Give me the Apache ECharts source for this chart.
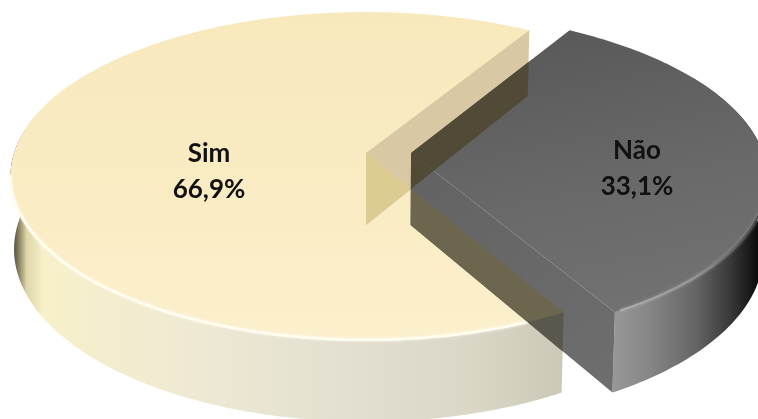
<!DOCTYPE html>
<html>
<head>
<meta charset="utf-8">
<style>html,body{margin:0;padding:0;background:#fff}#c{width:758px;height:419px}</style>
<script src="https://cdn.jsdelivr.net/npm/echarts@6/dist/echarts.min.js"></script>
</head>
<body>
<div id="c"></div>
<script>
var categories = ['Não', 'Sim'];
var values = [33.1, 66.9];
var valueLabels = ['33,1%', '66,9%'];

// Projection of the tilted disc: perspective homography
var view = {cx: 366, cy: 153, A: 352, B: 160.7, p: 0.14, h: 72, shrink: 0.99, start: -58.7, explode: [0.128, 0]};
var labelPos = [[637, 169], [209, 172]];

var total = values.reduce(function (a, b) { return a + b; }, 0);
var angles = [];
(function () {
  var a = view.start;
  values.forEach(function (v) { var s = a; a += v / total * 360; angles.push([s, a]); });
})();

function project(X, Y, e, lower) {
  var w = 1 - view.p * Y, xx = X + e;
  if (lower) return [view.cx + view.A * view.shrink * xx / w, view.cy + (view.B * view.shrink * Y + view.h) / w];
  return [view.cx + view.A * xx / w, view.cy + view.B * Y / w];
}
function rimPoint(deg, e, lower) { var t = deg * Math.PI / 180; return project(Math.cos(t), Math.sin(t), e, lower); }
function arcPoints(a0, a1, e, lower) {
  var pts = [], n = Math.max(2, Math.ceil(Math.abs(a1 - a0)));
  for (var i = 0; i <= n; i++) pts.push(rimPoint(a0 + (a1 - a0) * i / n, e, lower));
  return pts;
}
function topFace(i) { var e = view.explode[i]; return [project(0, 0, e, false)].concat(arcPoints(angles[i][0], angles[i][1], e, false)); }
function wallFace(i, a0, a1) { var e = view.explode[i]; return arcPoints(a0, a1, e, false).concat(arcPoints(a1, a0, e, true)); }
function cutFace(i, deg) { var e = view.explode[i]; return [project(0, 0, e, false), rimPoint(deg, e, false), rimPoint(deg, e, true), project(0, 0, e, true)]; }

function grad(x, y, x2, y2, stops) {
  return {type: 'linear', x: x, y: y, x2: x2, y2: y2, global: true,
    colorStops: stops.map(function (s) { return {offset: s[0], color: s[1]}; })};
}
function poly(points, fill, clip) {
  var el = {type: 'polygon', shape: {points: points}, style: {fill: fill}, silent: true};
  if (clip) el.clipPath = {type: 'polygon', shape: {points: clip}};
  return el;
}
function stroke(points, color, width, glow) {
  return {type: 'polyline', shape: {points: points}, silent: true,
    style: {fill: null, stroke: color, lineWidth: width, lineCap: 'round', shadowBlur: 3, shadowColor: glow}};
}

function drawSim() {
  var a = angles[1], t = topFace(1);
  var w = wallFace(1, a[0], 220);
  var back = cutFace(1, a[1]);
  return [
    poly(w, grad(10, 0, 562, 0, [[0, '#2f2b22'], [0.014, '#7d7658'], [0.03, '#ddd4a8'], [0.06, '#f7f0c9'],
      [0.3, '#f0ead3'], [0.6, '#e3e0d1'], [0.85, '#d9d6c6'], [1, '#cbc8b8']])),
    poly(t, grad(0, 12, 0, 340, [[0, '#f8e9bd'], [0.5, '#f9ebc2'], [1, '#fcf0cd']])),
    stroke(arcPoints(a[0] + 3, 172, 0, false), '#fffdf0', 2.5, 'rgba(255,253,240,0.9)'),
    poly(back, '#d8c9a4'),
    poly(back, '#dccc92', t)
  ];
}
function drawNao() {
  var a = angles[0], e = view.explode[0], t = topFace(0);
  var front = cutFace(0, a[1]);
  var simTop = topFace(1), simWall = wallFace(1, angles[1][0], 180);
  var back = cutFace(1, angles[1][1]);
  return [
    poly(wallFace(0, -30, a[1]), grad(605, 0, 758, 0, [[0, '#9c9c9c'], [0.3, '#858585'], [0.6, '#646464'],
      [0.82, '#383838'], [1, '#0c0c0c']])),
    poly(t, grad(560, 30, 620, 320, [[0, '#595959'], [0.55, '#696969'], [1, '#727272']])),
    poly(front, grad(412, 153, 609, 392, [[0, '#626262'], [1, '#6e6e6e']])),
    stroke(arcPoints(a[1] - 1, 8, e, false), grad(613, 0, 755, 0, [[0, '#b0b0b0'], [0.6, '#969696'], [1, '#4a4a4a']]), 2, 'rgba(170,170,170,0.8)'),
    poly(front, '#6d664f', simTop),
    poly(front, '#5a574c', simWall),
    poly(back, '#504a36', t),
    poly(back, '#504a36', front)
  ];
}
function labelEl(i) {
  return {type: 'text', silent: true, x: labelPos[i][0], y: labelPos[i][1],
    style: {text: categories[i] + '\n' + valueLabels[i], fill: '#111', align: 'center', verticalAlign: 'middle',
      font: 'bold 26px Lato, sans-serif', lineHeight: 36}};
}

var chart = echarts.init(document.getElementById('c'), null, {renderer: 'canvas'});
chart.setOption({
  animation: false,
  backgroundColor: '#ffffff',
  series: [{
    type: 'custom',
    coordinateSystem: 'none',
    // Sim first: Não lies over it
    data: [[values[1], 1], [values[0], 0]],
    renderItem: function (params, api) {
      var idx = api.value(1);
      var kids = idx === 1 ? drawSim() : drawNao();
      kids.push(labelEl(idx));
      return {type: 'group', children: kids};
    }
  }]
});
</script>
</body>
</html>
